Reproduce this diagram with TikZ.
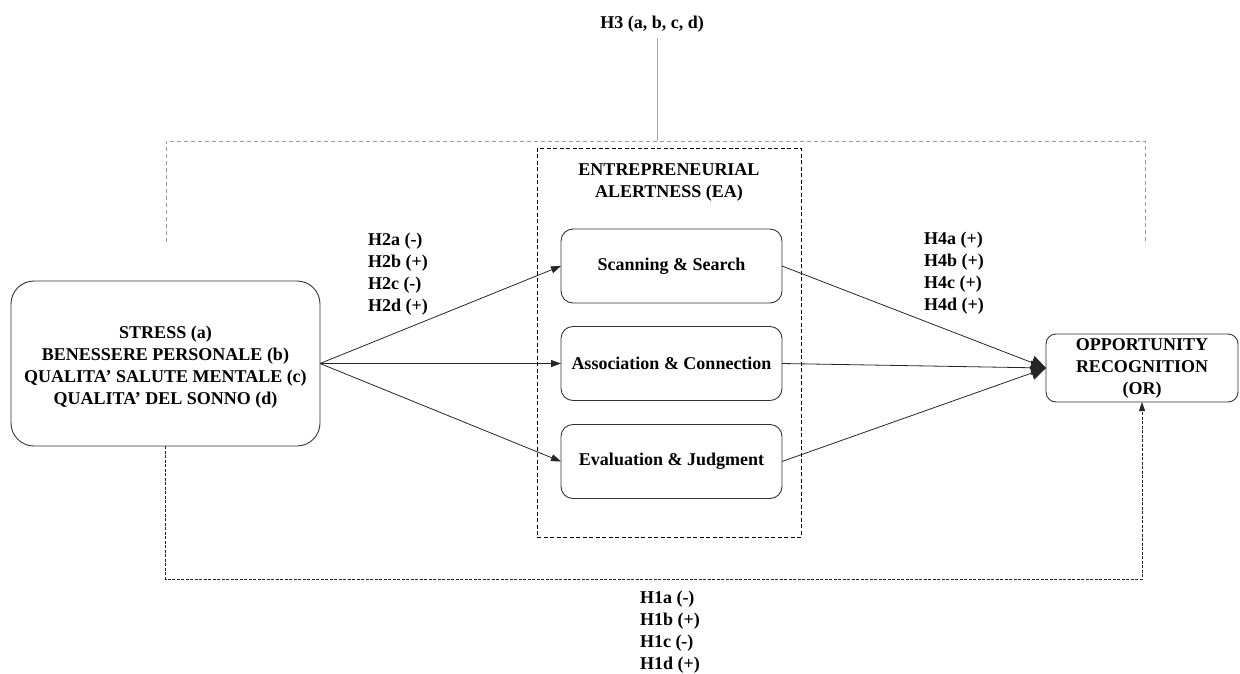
\documentclass[tikz,border=0pt]{standalone}
\usepackage{fontspec}
\setmainfont{Liberation Serif}
\usetikzlibrary{arrows.meta}

\begin{document}
\begin{tikzpicture}[x=1pt,y=-1pt,>=Stealth,
    every node/.style={font=\fontsize{18}{22}\selectfont\bfseries,inner sep=0pt,outer sep=0pt},
    box/.style={draw=black!80,line width=0.9pt,rounded corners=12pt,align=center},
    label/.style={align=left,anchor=west},
    path/.style={draw=black!85,line width=0.8pt,-{Triangle[length=10pt,width=7pt]}},
    joint/.style={draw=black!85,line width=0.8pt,-{Triangle[length=15pt,width=14pt]}}]
  \useasboundingbox (0,0) rectangle (1240,673);

  % mediator frame
  \node[draw,dashed,dash pattern=on 4pt off 2.5pt,line width=0.8pt,
    minimum width=264pt,minimum height=389pt] (ea) at (669,342.5) {};
  \node[align=center] (eatitle) at (669,182) {ENTREPRENEURIAL\\ALERTNESS (EA)};

  \node[box,rounded corners=23pt,minimum width=309pt,minimum height=165pt] (drivers) at (165.5,363.5) {};
  \node[align=center] (driverstext) at (165.5,367.5)
    {STRESS (a)\\BENESSERE PERSONALE (b)\\QUALITA’ SALUTE MENTALE (c)\\QUALITA’ DEL SONNO (d)};
  \node[box,minimum width=221pt,minimum height=74pt] (scan) at (671.5,266) {Scanning \& Search};
  \node[box,minimum width=221pt,minimum height=74pt] (assoc) at (671.5,363.5) {Association \& Connection};
  \node[box,minimum width=221pt,minimum height=74pt] (eval) at (671.5,461.5) {Evaluation \& Judgment};
  \node[box,rounded corners=10pt,minimum width=192pt,minimum height=68pt] (or) at (1142,368)
    {OPPORTUNITY\\RECOGNITION\\(OR)};

  % hypothesis labels
  \node[label] (h2) at (368,274) {H2a (-)\\H2b (+)\\H2c (-)\\H2d (+)};
  \node[label] (h4) at (924,273) {H4a (+)\\H4b (+)\\H4c (+)\\H4d (+)};
  \node[label] (h1) at (640,632) {H1a (-)\\H1b (+)\\H1c (-)\\H1d (+)};
  \node (h3) at (652,24) {H3 (a, b, c, d)};

  % H3 bracket
  \coordinate (h3join) at (657,141);
  \coordinate (h3left) at (166,242);
  \coordinate (h3right) at (1145,242);
  \draw[black!35,line width=0.7pt] (h3.south) ++(5,6) -- (h3join);
  \draw[black!40,line width=0.6pt,dash pattern=on 4pt off 3pt] (h3left) |- (h3join) -| (h3right);

  % paths
  \draw[path] (drivers.east) -- (scan.west);
  \draw[path] (drivers.east) -- (assoc.west);
  \draw[path] (drivers.east) -- (eval.west);
  \draw[joint] (scan.east) -- (or.west);
  \draw[joint] (assoc.east) -- (or.west);
  \draw[joint] (eval.east) -- (or.west);

  % direct effect H1
  \coordinate (h1base) at (655,579);
  \draw[black!85,line width=0.8pt,dash pattern=on 3pt off 1.5pt,-{Triangle[length=9pt,width=6pt]}]
    (drivers.south) |- (h1base) -| (or.south);
\end{tikzpicture}
\end{document}
